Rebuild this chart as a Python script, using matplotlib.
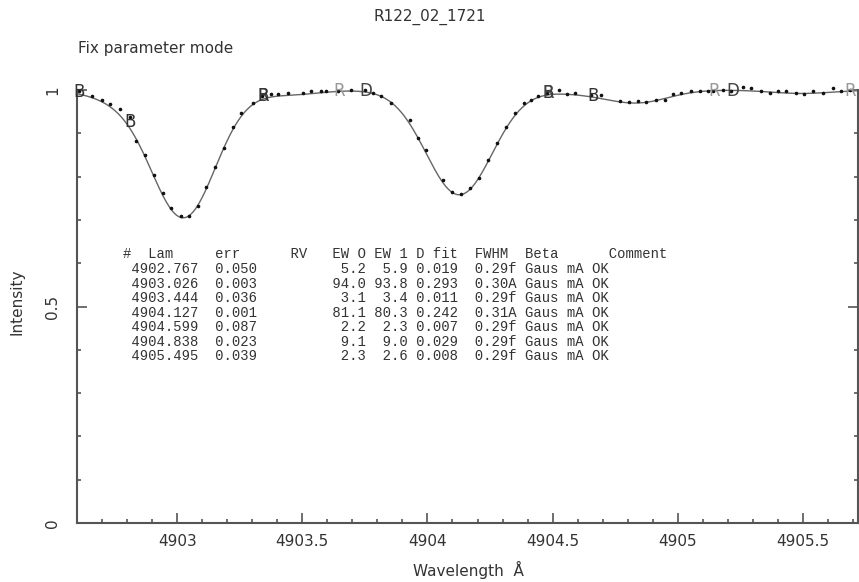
import numpy as np
import matplotlib
matplotlib.use("Agg")
import matplotlib.pyplot as plt
from matplotlib.ticker import MultipleLocator

# line list (table of fitted lines)
lam = [4902.767, 4903.026, 4903.444, 4904.127, 4904.599, 4904.838, 4905.495]
err = [0.050, 0.003, 0.036, 0.001, 0.087, 0.023, 0.039]
ew0 = [5.2, 94.0, 3.1, 81.1, 2.2, 9.1, 2.3]
ew1 = [5.9, 93.8, 3.4, 80.3, 2.3, 9.0, 2.6]
dfit = [0.019, 0.293, 0.011, 0.242, 0.007, 0.029, 0.008]
fwhm = [0.29, 0.30, 0.29, 0.31, 0.29, 0.29, 0.29]
fwhm_flag = ['f', 'A', 'f', 'A', 'f', 'f', 'f']

obs_lam = [4902.607, 4902.658, 4902.698, 4902.731, 4902.771, 4902.811, 4902.837,
           4902.871, 4902.907, 4902.944, 4902.977, 4903.015, 4903.047, 4903.084,
           4903.117, 4903.151, 4903.188, 4903.224, 4903.254, 4903.304, 4903.339,
           4903.377, 4903.403, 4903.443, 4903.503, 4903.536, 4903.576, 4903.596,
           4903.643, 4903.696, 4903.750, 4903.783, 4903.816, 4903.856, 4903.929,
           4903.962, 4903.996, 4904.062, 4904.100, 4904.133, 4904.169, 4904.205,
           4904.242, 4904.279, 4904.315, 4904.351, 4904.386, 4904.415, 4904.442,
           4904.479, 4904.524, 4904.559, 4904.591, 4904.655, 4904.695, 4904.768,
           4904.804, 4904.841, 4904.874, 4904.914, 4904.948, 4904.981, 4905.014,
           4905.054, 4905.087, 4905.121, 4905.141, 4905.181, 4905.214, 4905.260,
           4905.294, 4905.331, 4905.367, 4905.399, 4905.433, 4905.473, 4905.506,
           4905.540, 4905.580, 4905.620, 4905.653, 4905.687]
obs_val = [0.998, 0.985, 0.978, 0.967, 0.955, 0.938, 0.882,
           0.850, 0.804, 0.763, 0.727, 0.710, 0.710, 0.732,
           0.777, 0.823, 0.865, 0.914, 0.946, 0.971, 0.986,
           0.990, 0.991, 0.992, 0.994, 0.998, 0.998, 0.998,
           0.998, 1.000, 1.000, 0.994, 0.985, 0.971, 0.931,
           0.888, 0.861, 0.792, 0.765, 0.760, 0.773, 0.796,
           0.838, 0.877, 0.914, 0.948, 0.971, 0.977, 0.985,
           0.994, 1.000, 0.991, 0.992, 0.988, 0.988, 0.975,
           0.972, 0.975, 0.972, 0.978, 0.978, 0.990, 0.994,
           0.997, 0.998, 0.998, 0.998, 1.000, 0.998, 1.006,
           1.004, 0.998, 0.994, 0.998, 0.998, 0.992, 0.991,
           0.998, 0.994, 1.004, 0.998, 1.000]

# continuum / window markers
mk_lam = [4902.607, 4902.812, 4903.345, 4903.345, 4903.648, 4903.752,
          4904.483, 4904.483, 4904.661, 4905.145, 4905.220, 4905.690]
mk_val = [0.995, 0.925, 0.985, 0.985, 0.998, 0.998,
          0.993, 0.993, 0.985, 0.998, 0.998, 0.998]
mk_lbl = ['B', 'B', 'B', 'R', 'R', 'D', 'B', 'R', 'B', 'R', 'D', 'R']
mk_col = ['#333', '#333', '#444', '#333', '#999', '#444',
          '#333', '#444', '#333', '#999', '#444', '#999']

W, H = 859, 582
fig = plt.figure(figsize=(W / 100, H / 100), dpi=100)
ax = fig.add_axes([77 / W, 1 - 523 / H, (858 - 77) / W, (523 - 90) / H])

# fitted profile from the line list
x = np.linspace(4902.6, 4905.72, 800)
y = np.ones_like(x)
for l, d, f in zip(lam, dfit, fwhm):
    s = f / (2 * np.sqrt(2 * np.log(2)))
    y -= d * np.exp(-0.5 * ((x - l) / s) ** 2)
ax.plot(x, y, color='#666', lw=1.0, clip_on=False)
ax.plot(obs_lam, obs_val, 'o', ms=1.6, color='#111', clip_on=False)

for l, v, t, c in zip(mk_lam, mk_val, mk_lbl, mk_col):
    ax.text(l, v, t, ha='center', va='center', fontsize=12, color=c, clip_on=False)

ax.set_xlim(4902.6, 4905.72)
ax.set_ylim(0, 1)
ax.spines['top'].set_visible(False)
for s in ['left', 'right', 'bottom']:
    ax.spines[s].set_color('#555')
    ax.spines[s].set_linewidth(1.5)
ax.xaxis.set_major_locator(MultipleLocator(0.5))
ax.xaxis.set_minor_locator(MultipleLocator(0.1))
ax.yaxis.set_major_locator(MultipleLocator(0.5))
ax.yaxis.set_minor_locator(MultipleLocator(0.1))
ax.set_xticks([4903, 4903.5, 4904, 4904.5, 4905, 4905.5])
ax.set_xticklabels(['4903', '4903.5', '4904', '4904.5', '4905', '4905.5'])
ax.set_yticks([0, 0.5, 1])
ax.set_yticklabels(['0', '0.5', '1'], rotation=90, va='center')
ax.tick_params(which='both', direction='in', color='#555', width=1.2,
               left=True, right=True, top=False, bottom=True, labelcolor='#333')
ax.tick_params(which='major', length=7, labelsize=11)
ax.tick_params(axis='x', which='major', pad=8)
ax.tick_params(axis='y', which='major', pad=12)
ax.tick_params(which='minor', length=3)

fig.text(430 / W, 1 - 17 / H, 'R122_02_1721', ha='center', va='center',
         fontsize=11, color='#333')
fig.text(78 / W, 1 - 48 / H, 'Fix parameter mode', ha='left', va='center',
         fontsize=11, color='#333')
fig.text(468 / W, 1 - 570 / H, 'Wavelength  Å', ha='center', va='center',
         fontsize=11, color='#333')
fig.text(17 / W, 1 - 302 / H, 'Intensity', ha='center', va='center',
         rotation=90, fontsize=11, color='#333')

# table of line fit results
header = '#  Lam     err      RV   EW O EW 1 D fit  FWHM  Beta      Comment'
rows = [header]
for i in range(len(lam)):
    rows.append(f' {lam[i]:8.3f}  {err[i]:5.3f}{"":9}{ew0[i]:4.1f} {ew1[i]:4.1f} '
                f'{dfit[i]:5.3f}  {fwhm[i]:4.2f}{fwhm_flag[i]} Gaus mA OK')
for i, r in enumerate(rows):
    yy = 254 if i == 0 else 269.3 + 14.5 * (i - 1)
    fig.text(123 / W, 1 - yy / H, r, ha='left', va='center', fontsize=10,
             family='Liberation Mono', color='#333')

fig.savefig('out.png', dpi=100)
